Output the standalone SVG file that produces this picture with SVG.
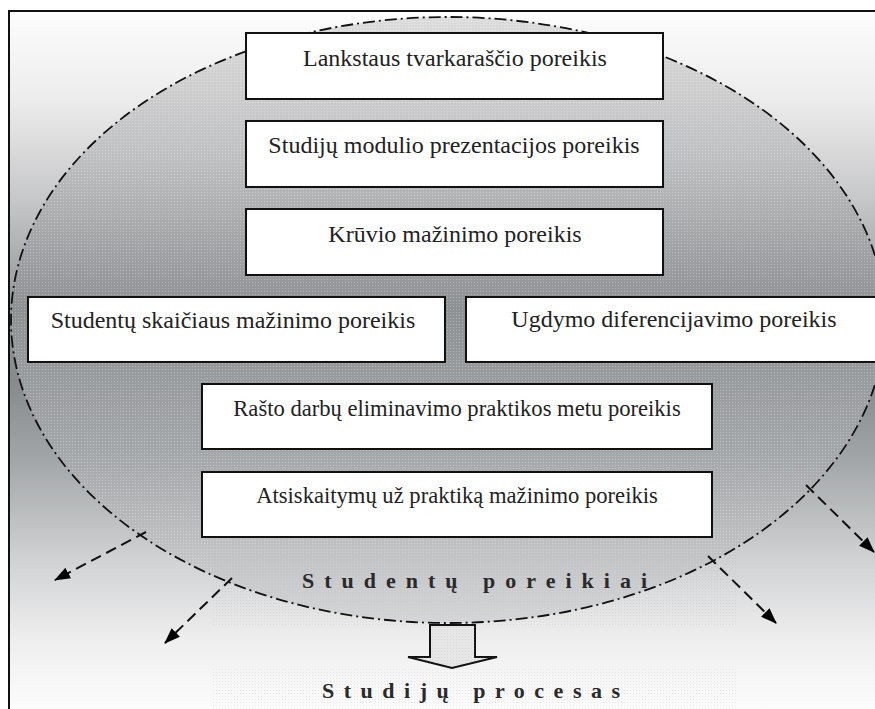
<svg xmlns="http://www.w3.org/2000/svg" width="875" height="709" viewBox="0 0 875 709">
<style>
.box{fill:#fff;stroke:#111;stroke-width:2}
.lbl{font-family:'Liberation Serif','Times New Roman',serif;font-size:24px;fill:#222;text-anchor:middle}
.sm{font-size:22.6px}
.title{font-family:'Liberation Serif','Times New Roman',serif;font-size:22px;font-weight:bold;fill:#2a2a2a}
.dash{fill:none;stroke:#111;stroke-width:2;stroke-dasharray:11 6;marker-end:url(#ah)}
</style>
<defs>
<linearGradient id="bg" gradientUnits="userSpaceOnUse" x1="0" y1="11" x2="0" y2="709">
<stop offset="0" stop-color="#fdfdfd"/>
<stop offset="0.128" stop-color="#ececec"/>
<stop offset="0.27" stop-color="#c6c7c8"/>
<stop offset="0.414" stop-color="#96999c"/>
<stop offset="0.53" stop-color="#868a8d"/>
<stop offset="0.643" stop-color="#a3a6a8"/>
<stop offset="0.787" stop-color="#d0d2d3"/>
<stop offset="0.9" stop-color="#eeeeee"/>
<stop offset="1" stop-color="#fcfcfc"/>
</linearGradient>
<linearGradient id="ell" gradientUnits="userSpaceOnUse" x1="0" y1="17" x2="0" y2="623">
<stop offset="0" stop-color="#dedede"/>
<stop offset="0.22" stop-color="#c2c3c4"/>
<stop offset="0.48" stop-color="#8f9295"/>
<stop offset="0.72" stop-color="#a6a9ab"/>
<stop offset="1" stop-color="#d6d7d8"/>
</linearGradient>
<pattern id="dots" width="3" height="3" patternUnits="userSpaceOnUse">
<rect width="1" height="1" fill="#fff" fill-opacity="0.25"/>
<rect x="1.5" y="1.5" width="1" height="1" fill="#000" fill-opacity="0.05"/>
</pattern>
<pattern id="dotsLight" width="3" height="3" patternUnits="userSpaceOnUse">
<rect width="1" height="1" fill="#999" fill-opacity="0.18"/>
</pattern>
<marker id="ah" viewBox="0 0 16 12" refX="15" refY="6" markerWidth="16" markerHeight="12" orient="auto" markerUnits="userSpaceOnUse">
<path d="M0,0 L16,6 L0,12 Z" fill="#000"/>
</marker>
</defs>

<g id="background">
<rect x="0" y="0" width="875" height="709" fill="#fff"/>
<rect x="9" y="11" width="880" height="710" fill="url(#bg)" stroke="#111" stroke-width="2"/>
</g>

<g id="needs-area">
<ellipse cx="448" cy="320" rx="437" ry="303" fill="url(#ell)"/>
<ellipse cx="448" cy="320" rx="437" ry="303" fill="url(#dots)"/>
<rect x="212" y="555" width="526" height="70" fill="url(#dotsLight)"/>
<rect x="212" y="668" width="526" height="45" fill="url(#dotsLight)"/>
<ellipse cx="448" cy="320" rx="437" ry="303" fill="none" stroke="#111" stroke-width="1.8" stroke-dasharray="12 4 2 4"/>
</g>

<g id="n1"><rect class="box" x="246" y="33" width="417" height="66"/><text class="lbl" x="455" y="66">Lankstaus tvarkaraščio poreikis</text></g>
<g id="n2"><rect class="box" x="246" y="121" width="417" height="66"/><text class="lbl" x="454" y="153">Studijų modulio prezentacijos poreikis</text></g>
<g id="n3"><rect class="box" x="246" y="209" width="417" height="66"/><text class="lbl" x="455" y="242">Krūvio mažinimo poreikis</text></g>
<g id="n4"><rect class="box" x="28" y="297" width="417" height="65"/><text class="lbl" x="233" y="328">Studentų skaičiaus mažinimo poreikis</text></g>
<g id="n5"><rect class="box" x="466" y="297" width="420" height="65"/><text class="lbl" x="674" y="327">Ugdymo diferencijavimo poreikis</text></g>
<g id="n6"><rect class="box" x="202" y="384" width="510" height="65"/><text class="lbl sm" x="457" y="416">Rašto darbų eliminavimo praktikos metu poreikis</text></g>
<g id="n7"><rect class="box" x="202" y="472" width="510" height="65"/><text class="lbl sm" x="457" y="503">Atsiskaitymų už praktiką mažinimo poreikis</text></g>

<g id="connectors">
<path class="dash" d="M146,532 L55,580"/>
<path class="dash" d="M232,578 L165,643"/>
<path class="dash" d="M708,556 L776,623"/>
<path class="dash" d="M806,485 L874,552"/>
<path d="M430,625 L475,625 L475,657 L497,657 L452,668 L408,657 L430,657 Z" fill="#e6e6e6" stroke="#111" stroke-width="2" stroke-linejoin="miter"/>
<path d="M430,625 L475,625 L475,657 L497,657 L452,668 L408,657 L430,657 Z" fill="url(#dotsLight)"/>
</g>

<g id="label-needs"><text class="title" x="302" y="588" textLength="345" lengthAdjust="spacing">Studentų  poreikiai</text></g>
<g id="label-process"><text class="title" x="322" y="698" textLength="298" lengthAdjust="spacing">Studijų  procesas</text></g>
</svg>
